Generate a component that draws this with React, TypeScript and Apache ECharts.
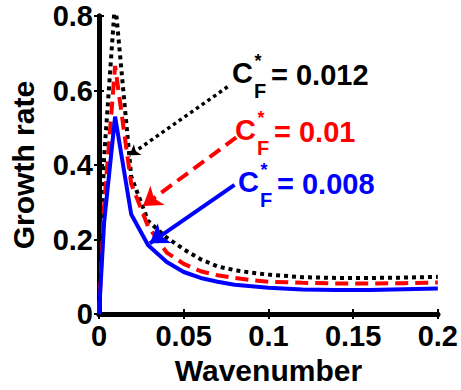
import React, { useEffect, useRef } from "react";
import * as echarts from "echarts";

const wavenumbers = [0, 0.003, 0.0095, 0.019, 0.029, 0.04, 0.05, 0.06, 0.07, 0.08, 0.09, 0.1, 0.12, 0.14, 0.16, 0.18, 0.2];
const growthCF012 = [0, 0.42, 0.84, 0.37, 0.25, 0.205, 0.174, 0.147, 0.128, 0.118, 0.111, 0.106, 0.099, 0.097, 0.097, 0.098, 0.1];
const growthCF010 = [0, 0.29, 0.666, 0.35, 0.235, 0.165, 0.135, 0.115, 0.104, 0.097, 0.091, 0.087, 0.084, 0.082, 0.082, 0.083, 0.085];
const growthCF008 = [0, 0.245, 0.53, 0.268, 0.185, 0.14, 0.113, 0.097, 0.087, 0.079, 0.075, 0.071, 0.066, 0.065, 0.065, 0.067, 0.069];
const cfLabels = ["0.012", "0.01", "0.008"];
const colors = ["#000000", "#ff0000", "#0000ff"];
// arrow annotations in data coordinates: [from, to]
const arrowFrom = [[0.0759, 0.61], [0.081, 0.474], [0.08, 0.347]];
const arrowTo = [[0.018, 0.426], [0.026, 0.29], [0.03, 0.19]];
const xTicks = ["0", "0.05", "0.1", "0.15", "0.2"];
const yTicks = ["0", "0.2", "0.4", "0.6", "0.8"];

const FONT = '"Liberation Sans", Arial, Helvetica, sans-serif';
const FS = 29;

export default function App() {
  const ref = useRef<HTMLDivElement>(null);
  useEffect(() => {
    if (!ref.current) return;
    const chart = echarts.init(ref.current, null, { renderer: "svg" });
    const pairs = (ys: number[]) => wavenumbers.map((x, i) => [x, ys[i]]);
    const allSeries = [growthCF012, growthCF010, growthCF008];
    const lineTypes: any[] = [[4, 4], [13, 7], "solid"];
    const arrowTypes: any[] = [[3.5, 3.5], [13, 7], "solid"];
    const arrowSizes = [10, 18, 18];

    const series = allSeries.map((ys, i) => ({
      type: "line",
      data: pairs(ys),
      showSymbol: false,
      symbol: "none",
      clip: true,
      lineStyle: { color: colors[i], width: 4, type: lineTypes[i], cap: "butt" },
      silent: true,
      z: 2 + i,
      markLine: {
        silent: true,
        symbol: ["none", "arrow"],
        symbolSize: arrowSizes[i],
        label: { show: false },
        lineStyle: { color: colors[i], width: i === 0 ? 3.5 : 4, type: arrowTypes[i], cap: "butt" },
        data: [[{ coord: arrowFrom[i] }, { coord: arrowTo[i] }]],
      },
    }));

    const basePos = [[232, 73], [235, 130], [238, 182]];
    const graphics = cfLabels.map((lab, i) => ({
      type: "group",
      x: basePos[i][0],
      y: basePos[i][1],
      children: [
        { type: "text", x: 0, y: 0, style: { text: "C", fill: colors[i], font: `bold 29px ${FONT}`, textVerticalAlign: "middle", lineHeight: 24 } },
        { type: "text", x: 26, y: -12, style: { text: "*", fill: colors[i], font: `bold 18px ${FONT}`, textAlign: "center", textVerticalAlign: "middle", lineHeight: 10 } },
        { type: "text", x: 22, y: 18, style: { text: "F", fill: colors[i], font: `bold 20px ${FONT}`, textVerticalAlign: "middle", lineHeight: 14 } },
        { type: "text", x: 39, y: 2, style: { text: "= " + lab, fill: colors[i], font: `bold 29px ${FONT}`, textVerticalAlign: "middle", lineHeight: 24 } },
      ],
    }));

    const axisCommon = {
      type: "value",
      axisLine: { show: true, lineStyle: { color: "#000", width: 5 } },
      axisTick: { show: true, inside: true, length: 5, lineStyle: { color: "#000", width: 2 } },
      splitLine: { show: false },
    };
    const textStyle = { color: "#000", fontWeight: "bold", fontSize: FS, fontFamily: FONT };
    const nameStyle = { ...textStyle, fontSize: 30 };

    chart.setOption({
      animation: false,
      grid: { left: 99, right: 22, top: 16, bottom: 70, show: false },
      xAxis: [
        {
          ...axisCommon,
          position: "bottom",
          min: 0,
          max: 0.2,
          interval: 0.05,
          name: "Wavenumber",
          nameLocation: "middle",
          nameGap: 34,
          nameTextStyle: nameStyle,
          axisLabel: {
            ...textStyle,
            margin: 7,
            formatter: (v: number) => xTicks[Math.round(v / 0.05)],
          },
        },
        { ...axisCommon, position: "top", min: 0, max: 0.2, interval: 0.05, axisLabel: { show: false } },
      ],
      yAxis: [
        {
          ...axisCommon,
          position: "left",
          min: 0,
          max: 0.8,
          interval: 0.2,
          name: "Growth rate",
          nameLocation: "middle",
          nameGap: 61,
          nameTextStyle: nameStyle,
          axisLabel: {
            ...textStyle,
            margin: 6,
            formatter: (v: number) => yTicks[Math.round(v / 0.2)],
          },
        },
        { ...axisCommon, position: "right", min: 0, max: 0.8, interval: 0.2, axisLabel: { show: false } },
      ],
      series,
      graphic: graphics,
    });
    return () => chart.dispose();
  }, []);
  return <div ref={ref} style={{ width: 461, height: 390, position: "absolute", left: 0, top: 0, background: "#fff" }} />;
}
